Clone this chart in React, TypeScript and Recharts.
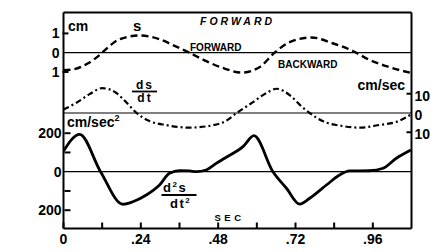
import { ComposedChart, Line, XAxis, YAxis, ReferenceLine } from "recharts";

// displacement s (cm)
const sTime = [0, 0.029, 0.075, 0.112, 0.143, 0.174, 0.236, 0.298, 0.339, 0.391, 0.443, 0.5, 0.552, 0.609, 0.655, 0.702, 0.769, 0.835, 0.898, 0.95, 1.002, 1.078];
const sCm = [-0.91, -0.87, -0.56, -0.12, 0.35, 0.7, 0.89, 0.7, 0.4, 0, -0.44, -0.82, -1.03, -0.74, 0, 0.55, 0.79, 0.49, 0.09, -0.38, -0.7, -1.05];

// velocity ds/dt (cm/sec)
const vTime = [0, 0.039, 0.081, 0.12, 0.164, 0.195, 0.227, 0.267, 0.319, 0.391, 0.463, 0.5, 0.541, 0.587, 0.63, 0.661, 0.707, 0.738, 0.764, 0.804, 0.867, 0.919, 0.981, 1.035, 1.078];
const vCmSec = [1.8, 5.2, 9.8, 12.9, 10.4, 5.5, 0, -4.2, -6.3, -7.6, -6.4, -4.5, 0.4, 5.5, 10.4, 12.6, 8.6, 3.5, 0, -4.2, -6.8, -7.6, -6.2, -4.5, -0.8];

// acceleration d2s/dt2 (cm/sec^2)
const aTime = [0, 0.05, 0.115, 0.184, 0.215, 0.257, 0.298, 0.329, 0.36, 0.391, 0.412, 0.443, 0.474, 0.5, 0.557, 0.591, 0.65, 0.692, 0.733, 0.764, 0.816, 0.857, 0.888, 0.95, 0.992, 1.033, 1.078];
const aCmSec2 = [107, 194, 0, -169, -156, -121, -69, -8, 5, 4, 0, 9, 43, 70, 130, 187, 0, -86, -168, -138, -69, -17, 4, 5, 18, 70, 113];

const xTicks = [0, 0.12, 0.24, 0.36, 0.48, 0.6, 0.72, 0.84, 0.96];
const xLabeled = [0, 0.24, 0.48, 0.72, 0.96];
const sTicks = [1, 0, -1];
const vTicks = [10, 0, -10];
const aTicks = [200, 100, 0, -100, -200];
const aLabeled = [200, 0, -200];

const T_MAX = 1.08;
const A_DOMAIN: [number, number] = [-295, 827];

const sPoints = sTime.map((t, i) => ({ t, v: sCm[i] }));
const vPoints = vTime.map((t, i) => ({ t, v: vCmSec[i] }));
const aPoints = aTime.map((t, i) => ({ t, v: aCmSec2[i] }));

const W = 445;
const H = 252;
const margin = { top: 12.5, right: 32.5, bottom: 22.5, left: 61.5 };

const INK = "#000";
const FONT = '"Liberation Sans", Arial, sans-serif';
const RULE = 2;

const fmtTime = (v: number) => (v === 0 ? "0" : v.toFixed(2).slice(1));
const near = (list: number[], v: number) => list.some((d) => Math.abs(d - v) < 1e-6);

// tick marks point into the plot, labels sit outside it
function LeftTick(props: any) {
  const { payload, labeled, shift = 0 } = props;
  const x = Number(props.x) + shift;
  const y = Number(props.y);
  const show = near(labeled, payload.value);
  return (
    <g>
      {payload.value !== 0 && <line x1={x} x2={x + 6} y1={y} y2={y} stroke={INK} strokeWidth={RULE} />}
      {show && (
        <text x={x - 3} y={y + 5} textAnchor="end" fill={INK} fontFamily={FONT} fontWeight="bold" fontSize={14}>
          {Math.abs(payload.value)}
        </text>
      )}
    </g>
  );
}

function RightTick(props: any) {
  const { payload } = props;
  const x = Number(props.x);
  const y = Number(props.y);
  return (
    <g>
      {payload.value !== 0 && <line x1={x - 5} x2={x} y1={y} y2={y} stroke={INK} strokeWidth={RULE} />}
      <text x={x + 3} y={y + 7} textAnchor="start" fill={INK} fontFamily={FONT} fontWeight="bold" fontSize={14}>
        {Math.abs(payload.value)}
      </text>
    </g>
  );
}

function BottomTick(props: any) {
  const { payload } = props;
  const x = Number(props.x);
  const y = Number(props.y);
  const show = near(xLabeled, payload.value);
  return (
    <g>
      <line x1={x} x2={x} y1={y} y2={y - 6} stroke={INK} strokeWidth={RULE} />
      {show && (
        <text x={x} y={y + 15} textAnchor="middle" fill={INK} fontFamily={FONT} fontWeight="bold" fontSize={14}>
          {fmtTime(payload.value)}
        </text>
      )}
    </g>
  );
}

const bold = { fill: INK, fontFamily: FONT, fontWeight: "bold" as const };

export default function App() {
  return (
    <div style={{ position: "absolute", left: 0, top: 0, width: W, height: H, background: "#fff" }}>
      <ComposedChart width={W} height={H} margin={margin}>
        <XAxis
          dataKey="t"
          type="number"
          domain={[0, T_MAX]}
          allowDataOverflow
          ticks={xTicks}
          interval={0}
          tickSize={0}
          tickMargin={0}
          height={1}
          axisLine={false}
          tick={(p: any) => <BottomTick {...p} />}
        />
        <YAxis
          yAxisId="s"
          type="number"
          domain={[-9.109, 2.083]}
          allowDataOverflow
          ticks={sTicks}
          interval={0}
          width={1}
          tickSize={0}
          tickMargin={0}
          axisLine={false}
          tick={(p: any) => <LeftTick {...p} labeled={sTicks} />}
        />
        <YAxis
          yAxisId="a"
          type="number"
          domain={A_DOMAIN}
          allowDataOverflow
          ticks={aTicks}
          interval={0}
          width={1}
          tickSize={0}
          tickMargin={0}
          axisLine={false}
          tick={(p: any) => <LeftTick {...p} labeled={aLabeled} shift={1} />}
        />
        <YAxis
          yAxisId="v"
          orientation="right"
          type="number"
          domain={[-60, 52.2]}
          allowDataOverflow
          ticks={vTicks}
          interval={0}
          width={1}
          tickSize={0}
          tickMargin={0}
          axisLine={false}
          tick={(p: any) => <RightTick {...p} />}
        />
        {/* plot frame */}
        <ReferenceLine yAxisId="a" x={0} stroke={INK} strokeWidth={RULE} />
        <ReferenceLine yAxisId="a" x={T_MAX} stroke={INK} strokeWidth={RULE} />
        <ReferenceLine yAxisId="a" y={A_DOMAIN[1]} stroke={INK} strokeWidth={RULE} />
        <ReferenceLine yAxisId="a" y={A_DOMAIN[0]} stroke={INK} strokeWidth={RULE} />
        {/* zero lines of the three traces */}
        <ReferenceLine yAxisId="s" y={0} stroke={INK} strokeWidth={1.2} />
        <ReferenceLine yAxisId="v" y={0} stroke={INK} strokeWidth={1.2} />
        <ReferenceLine yAxisId="a" y={0} stroke={INK} strokeWidth={1.2} />
        <Line data={sPoints} dataKey="v" yAxisId="s" type="monotone" stroke={INK} strokeWidth={2.4} strokeDasharray="7 4" dot={false} isAnimationActive={false} />
        <Line data={vPoints} dataKey="v" yAxisId="v" type="monotone" stroke={INK} strokeWidth={2.2} strokeDasharray="6 3 2 3" dot={false} isAnimationActive={false} />
        <Line data={aPoints} dataKey="v" yAxisId="a" type="monotone" stroke={INK} strokeWidth={2.8} dot={false} isAnimationActive={false} />
      </ComposedChart>
      <svg width={W} height={H} style={{ position: "absolute", left: 0, top: 0, pointerEvents: "none" }}>
        <text x={68} y={31} fontSize={14} {...bold}>cm</text>
        <text x={133} y={31} fontSize={15} {...bold}>s</text>
        <text x={200} y={25} fontSize={10.5} fontStyle="italic" letterSpacing={3} {...bold}>FORWARD</text>
        <text x={190} y={51} fontSize={10} {...bold}>FORWARD</text>
        <text x={278} y={67.5} fontSize={10} {...bold}>BACKWARD</text>
        <text x={145} y={88.5} fontSize={12} textAnchor="middle" letterSpacing={2} {...bold}>ds</text>
        <line x1={132} x2={157} y1={91.5} y2={91.5} stroke={INK} strokeWidth={1.8} />
        <text x={145} y={102} fontSize={12} textAnchor="middle" letterSpacing={2} {...bold}>dt</text>
        <text x={405} y={90} fontSize={14} textAnchor="end" {...bold}>cm/sec</text>
        <text x={67} y={127} fontSize={14} {...bold}>
          cm/sec<tspan dy={-6} fontSize={9}>2</tspan>
        </text>
        <text x={163} y={191.5} fontSize={13} letterSpacing={1.5} {...bold}>
          d<tspan dy={-5} fontSize={8}>2</tspan><tspan dy={5}>s</tspan>
        </text>
        <line x1={161.5} x2={196.5} y1={195} y2={195} stroke={INK} strokeWidth={1.8} />
        <text x={170} y={207.5} fontSize={13} letterSpacing={1.5} {...bold}>
          dt<tspan dy={-5} fontSize={8}>2</tspan>
        </text>
        <text x={214.5} y={220.5} fontSize={9.5} letterSpacing={3.5} {...bold}>SEC</text>
      </svg>
    </div>
  );
}
